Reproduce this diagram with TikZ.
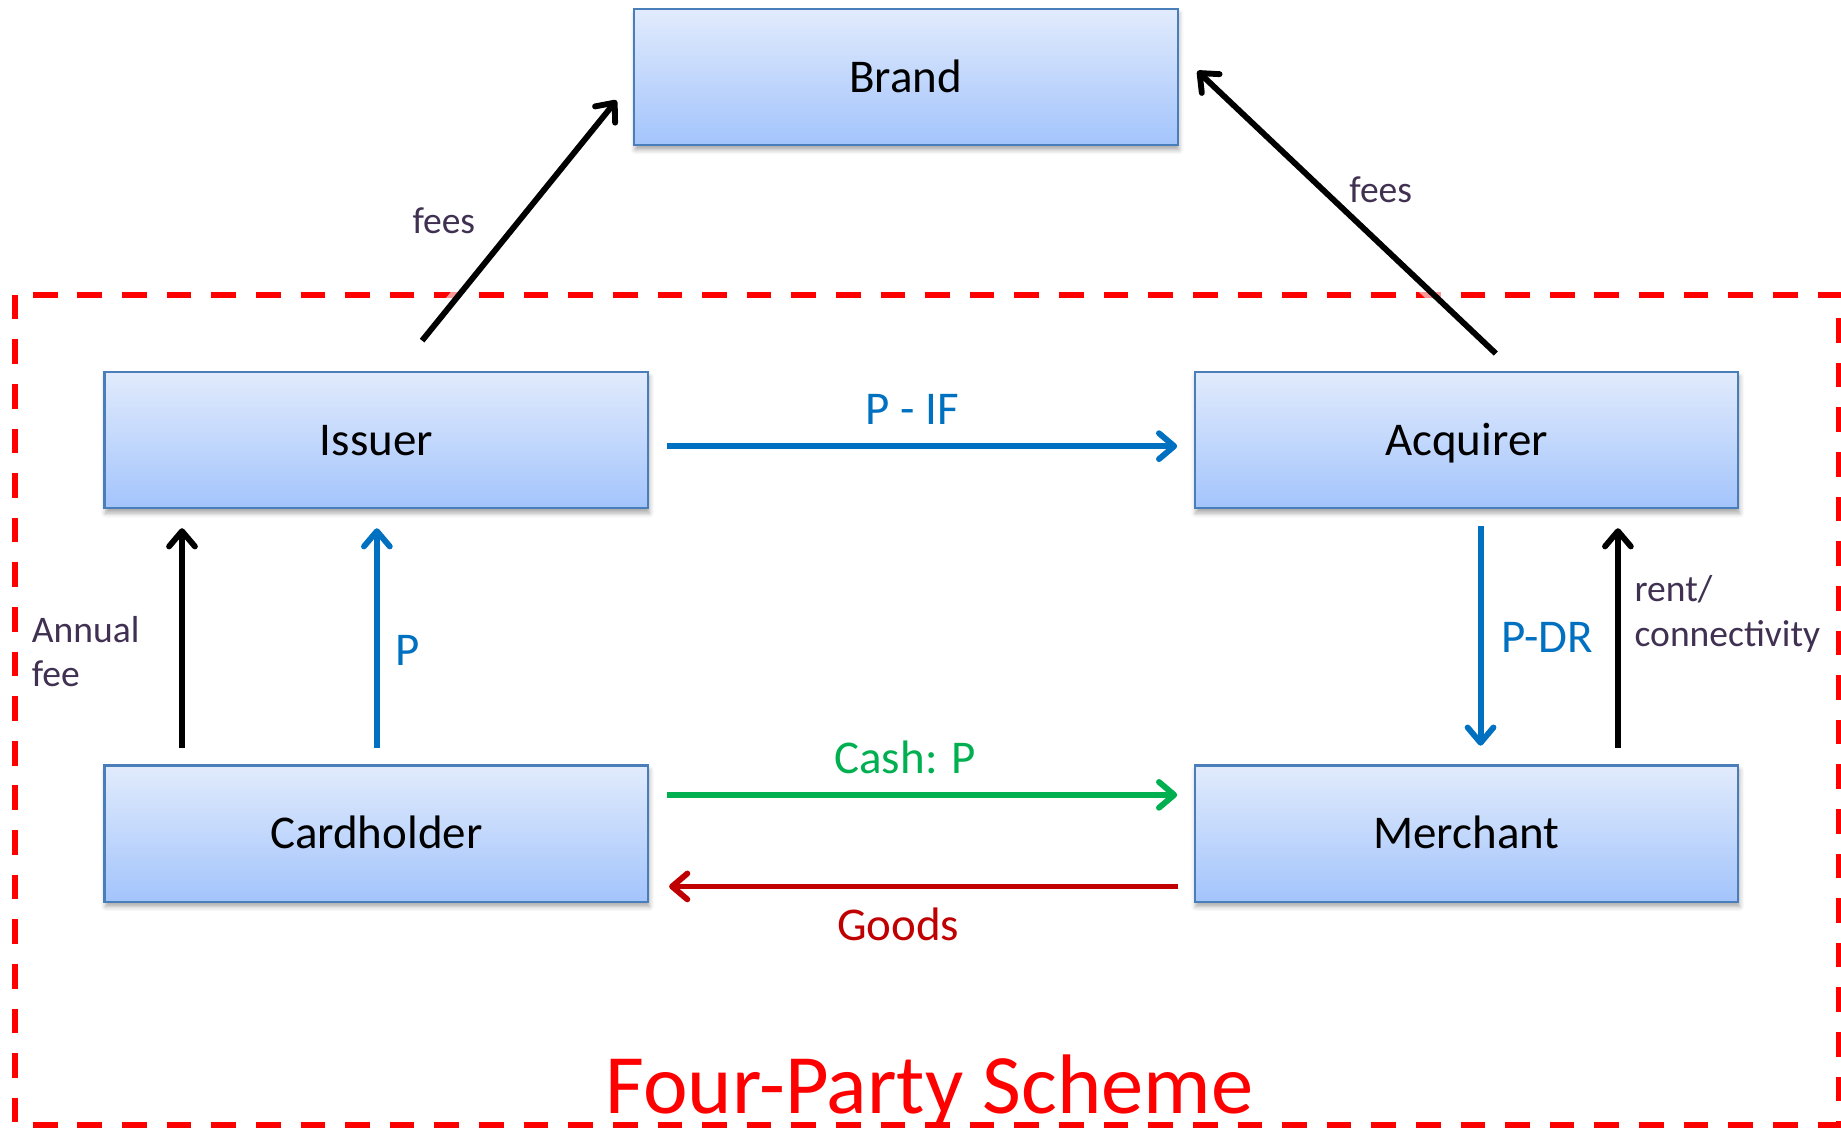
\documentclass[tikz,border=0pt]{standalone}
\usepackage{fontspec}
\setmainfont{Carlito}
\usetikzlibrary{arrows.meta,shadows.blur}

\definecolor{boxtop}{RGB}{225,235,252}
\definecolor{boxbot}{RGB}{163,196,252}
\definecolor{boxline}{RGB}{74,126,187}
\definecolor{lblpurple}{RGB}{64,49,82}
\definecolor{flowblue}{RGB}{0,112,192}
\definecolor{flowgreen}{RGB}{0,176,80}
\definecolor{flowred}{RGB}{192,0,0}
\definecolor{schemered}{RGB}{255,0,0}

\tikzset{
  party/.style={draw=boxline, line width=1.8pt, top color=boxtop, bottom color=boxbot,
    minimum width=463pt, minimum height=116pt, inner sep=0pt,
    text height=26pt, text depth=0pt,
    font=\fontsize{40}{48}\selectfont,
    blur shadow={shadow xshift=1pt, shadow yshift=-4pt, shadow blur radius=4pt, shadow opacity=35}},
  flow/.style={line width=5pt, -{Straight Barb[length=13pt,width=22pt,round]}},
  halo/.style={preaction={draw=white, line width=14pt, opacity=0.6, arrows=-}},
  tag/.style={inner sep=0pt, font=\fontsize{40}{48}\selectfont},
  smalltag/.style={inner sep=0pt, text=lblpurple, font=\fontsize{32}{38}\selectfont, align=left}
}

\begin{document}
\begin{tikzpicture}[x=1pt,y=-1pt]
\useasboundingbox (0,0) rectangle (1568,961);

% scheme boundary
\draw[schemered, line width=5pt, dash pattern=on 21pt off 17pt] (13,251) rectangle (1566,958);

% parties
\node[party] (brand) at (771.5,65.5) {Brand};
\node[party] (issuer) at (320.5,375) {Issuer};
\node[party] (acquirer) at (1249,375) {Acquirer};
\node[party] (cardholder) at (320.5,710) {Cardholder};
\node[party] (merchant) at (1249,710) {Merchant};

% fees to the brand
\draw[flow, halo] ([xshift=39pt,yshift=26pt]issuer.north) -- ([xshift=-14pt,yshift=-20pt]brand.west);
\draw[flow, halo] ([xshift=25pt,yshift=15pt]acquirer.north) -- ([xshift=16pt,yshift=5pt]brand.east);

% interbank settlement
\draw[flow, flowblue] ([xshift=15pt,yshift=-5pt]issuer.east) -- ([xshift=-14pt,yshift=-5pt]acquirer.west);

% cardholder and merchant
\draw[flow, flowgreen] ([xshift=15pt,yshift=33pt]cardholder.east) -- ([xshift=-14pt,yshift=33pt]merchant.west);
\draw[flow, flowred] ([xshift=-13pt,yshift=-45pt]merchant.west) -- ([xshift=17pt,yshift=-45pt]cardholder.east);

% vertical flows
\draw[flow] ([xshift=-165.5pt,yshift=14pt]cardholder.north) -- ([xshift=-165.5pt,yshift=-16pt]issuer.south);
\draw[flow, flowblue] ([xshift=0.5pt,yshift=14pt]cardholder.north) -- ([xshift=0.5pt,yshift=-16pt]issuer.south);
\draw[flow, flowblue] ([xshift=12pt,yshift=-14pt]acquirer.south) -- ([xshift=12pt,yshift=16pt]merchant.north);
\draw[flow] ([xshift=129pt,yshift=14pt]merchant.north) -- ([xshift=129pt,yshift=-16pt]acquirer.south);

% labels
\node[smalltag] (feesI) at (378,188) {fees};
\node[smalltag] (feesA) at (1176,162) {fees};
\node[tag, text=flowblue] (pif) at (777,349) {P - IF};
\node[smalltag, anchor=west] (annual) at (27,555) {Annual\\fee};
\node[tag, text=flowblue] (pl) at (347,554) {P};
\node[tag, text=flowblue] (pdr) at (1318,543) {P-DR};
\node[smalltag, anchor=west] (rent) at (1392,523) {rent/\\connectivity};
\node[tag, text=flowgreen] (cash) at (771,645) {Cash: P};
\node[tag, text=flowred] (goods) at (765,787) {Goods};
\node[inner sep=0pt, text=schemered, font=\fontsize{72}{86}\selectfont, anchor=base] (title) at (791.5,948) {Four-Party Scheme};
\end{tikzpicture}
\end{document}
